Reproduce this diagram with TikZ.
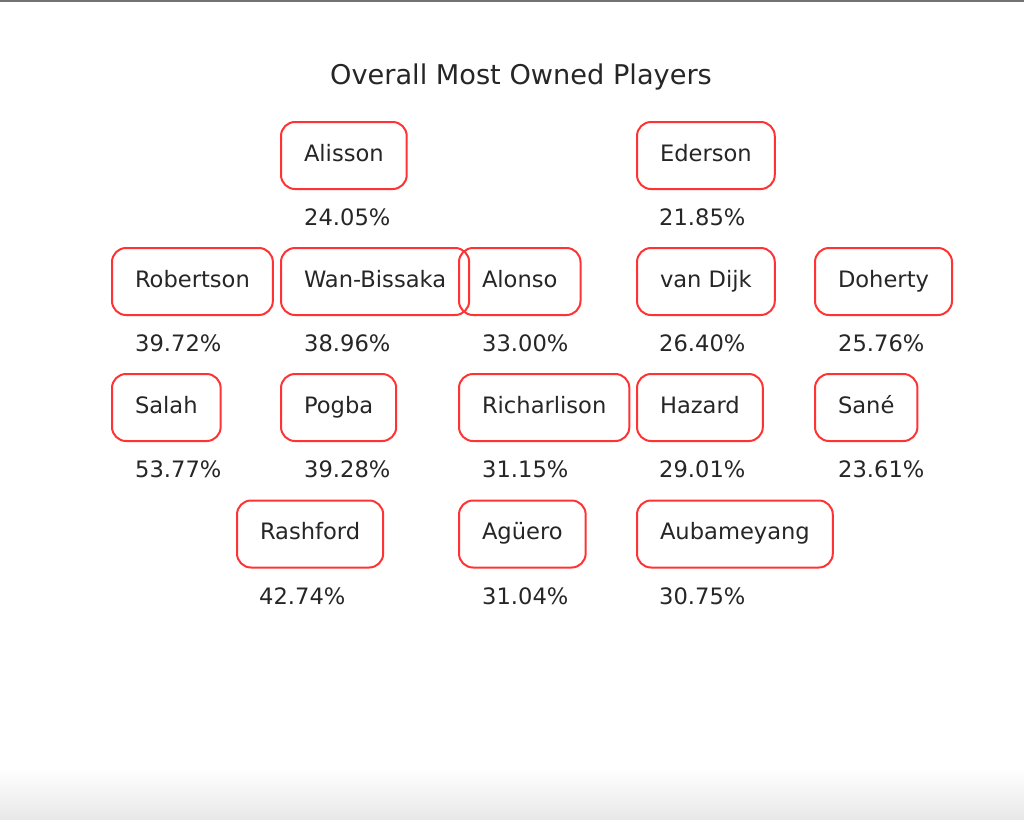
\documentclass[tikz,border=0pt]{standalone}
\usepackage{fontspec}
\setmainfont{DejaVu Sans}
\usepackage{tikz}

\begin{document}
\begin{tikzpicture}[x=1pt,y=-1pt,
    player/.style={draw=red!80!white, line width=2pt, rounded corners=14pt,
        anchor=west, outer sep=0pt, inner xsep=23pt, minimum height=67pt,
        text height=16pt, text depth=5pt, text=black!85,
        font=\fontsize{22.6}{26}\selectfont},
    share/.style={anchor=west, inner sep=0pt, text=black!85,
        font=\fontsize{22.6}{26}\selectfont}]
        \useasboundingbox (0,0) rectangle (1024,819);
        % Frame of the window
        \draw[black!55, line width=2pt] (0,1) -- (1024,1);
        \shade[top color=white, bottom color=black!9] (0,768) rectangle (1024,819);

        % Title
        \node[text=black!85, font=\fontsize{27.2}{32}\selectfont] (title) at (521,77) {Overall Most Owned Players};

        % Goalkeepers
        \node[player] (alisson) at (281,155.5) {Alisson};
        \node[share] (alisson-pct) at (304,217) {24.05\%};
        \node[player] (ederson) at (637,155.5) {Ederson};
        \node[share] (ederson-pct) at (659,217) {21.85\%};

        % Defenders
        \node[player] (robertson) at (112,281.5) {Robertson};
        \node[share] (robertson-pct) at (135,343) {39.72\%};
        \node[player] (wanbissaka) at (281,281.5) {Wan-Bissaka};
        \node[share] (wanbissaka-pct) at (304,343) {38.96\%};
        \node[player] (alonso) at (459,281.5) {Alonso};
        \node[share] (alonso-pct) at (482,343) {33.00\%};
        \node[player] (vandijk) at (637,281.5) {van Dijk};
        \node[share] (vandijk-pct) at (659,343) {26.40\%};
        \node[player] (doherty) at (815,281.5) {Doherty};
        \node[share] (doherty-pct) at (838,343) {25.76\%};

        % Midfielders
        \node[player] (salah) at (112,407.5) {Salah};
        \node[share] (salah-pct) at (135,469) {53.77\%};
        \node[player] (pogba) at (281,407.5) {Pogba};
        \node[share] (pogba-pct) at (304,469) {39.28\%};
        \node[player] (richarlison) at (459,407.5) {Richarlison};
        \node[share] (richarlison-pct) at (482,469) {31.15\%};
        \node[player] (hazard) at (637,407.5) {Hazard};
        \node[share] (hazard-pct) at (659,469) {29.01\%};
        \node[player] (sane) at (815,407.5) {Sané};
        \node[share] (sane-pct) at (838,469) {23.61\%};

        % Forwards
        \node[player] (rashford) at (237,534) {Rashford};
        \node[share] (rashford-pct) at (259,596) {42.74\%};
        \node[player] (aguero) at (459,534) {Agüero};
        \node[share] (aguero-pct) at (482,596) {31.04\%};
        \node[player] (aubameyang) at (637,534) {Aubameyang};
        \node[share] (aubameyang-pct) at (659,596) {30.75\%};
    \end{tikzpicture}
\end{document}
